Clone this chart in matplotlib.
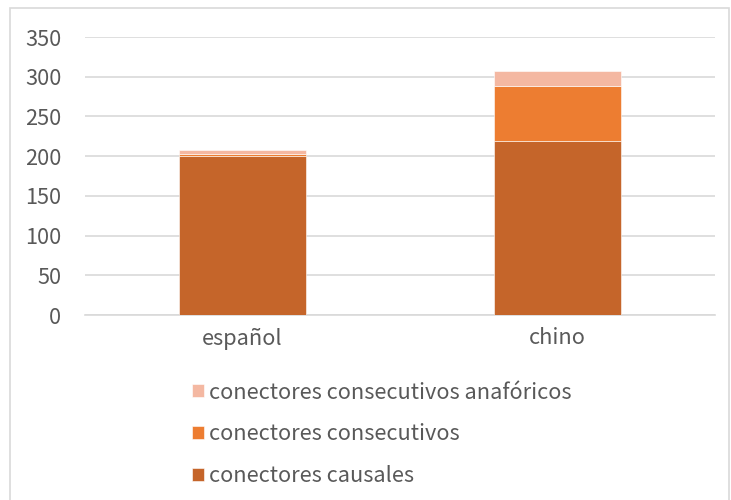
import matplotlib
matplotlib.use("Agg")
import matplotlib.pyplot as plt
from matplotlib.patches import Rectangle

plt.rcParams['font.family'] = ['Noto Sans CJK SC', 'DejaVu Sans']

categories = ["español", "chino"]
causales = [200, 219]
consecutivos = [3, 69]
anaforicos = [5, 19]

series_labels = ["conectores causales", "conectores consecutivos",
                 "conectores consecutivos anafóricos"]
colors = ["#C5652A", "#ED7D31", "#F4B8A2"]
text_color = "#595959"
grid_color = "#D9D9D9"
font_size = 15.7

fig = plt.figure(figsize=(7.31, 5.0), dpi=100)
ax = fig.add_axes([85 / 731, 1 - 315 / 500, 630 / 731, (315 - 37) / 500])

x = list(range(len(categories)))
width = 0.403
bottom = [0] * len(categories)
handles = []
for vals, lab, col in zip([causales, consecutivos, anaforicos], series_labels, colors):
    b = ax.bar(x, vals, width, bottom=bottom, color=col, label=lab,
               edgecolor="white", linewidth=0.4, zorder=3)
    handles.append(b)
    bottom = [b0 + v for b0, v in zip(bottom, vals)]

ax.set_xlim(-0.5, 1.5)
ax.set_ylim(0, 350)
ax.set_yticks(range(0, 351, 50))
ax.yaxis.grid(True, color=grid_color, linewidth=1.2, zorder=0)
ax.set_axisbelow(True)
for s in ["top", "right", "left"]:
    ax.spines[s].set_visible(False)
ax.spines["bottom"].set_color(grid_color)
ax.spines["bottom"].set_linewidth(1.2)
ax.tick_params(axis="both", length=0, colors=text_color, labelsize=font_size)
ax.tick_params(axis="y", pad=17)
ax.tick_params(axis="x", pad=9)
ax.set_xticks(x)
ax.set_xticklabels(categories)

leg = fig.legend(handles[::-1], series_labels[::-1], loc="upper left",
                 bbox_to_anchor=(172 / 731, 1 - 362 / 500), frameon=False,
                 fontsize=font_size, labelcolor=text_color, handlelength=0.55,
                 handleheight=0.55, handletextpad=0.25, labelspacing=0.9)

fig.add_artist(Rectangle((10 / 731, -0.01), 719 / 731, 1 - 8 / 500 + 0.01,
                         transform=fig.transFigure, fill=False,
                         edgecolor=grid_color, linewidth=1.2))

fig.savefig("out.png", dpi=100)
